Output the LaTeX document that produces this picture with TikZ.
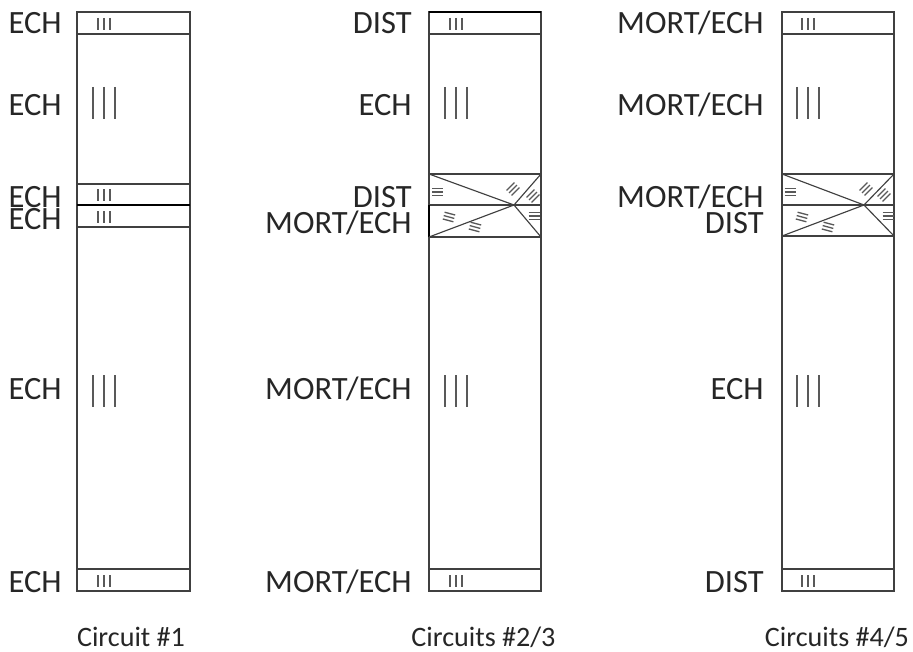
\documentclass[tikz,border=0pt]{standalone}
\usepackage{fontspec}
\setmainfont{Carlito}
\newcommand{\smallticks}[2]{\draw[tick] (#1-6,#2-6) -- (#1-6,#2+6) (#1,#2-6) -- (#1,#2+6) (#1+6,#2-6) -- (#1+6,#2+6);}
\newcommand{\largeticks}[2]{\draw[tick] (#1-11,#2-16) -- (#1-11,#2+16) (#1,#2-16) -- (#1,#2+16) (#1+11,#2-16) -- (#1+11,#2+16);}
\newcommand{\hatchmark}[3]{\draw[tick,shift={(#1,#2)},rotate=#3] (-5.5,-3.5) -- (5.5,-3.5) (-5.5,0) -- (5.5,0) (-5.5,3.5) -- (5.5,3.5);}

\begin{document}
\begin{tikzpicture}[x=0.02cm,y=-0.02cm,
  wall/.style={color=black!75,line width=0.65pt},
  heavy/.style={color=black,line width=1.2pt},
  tick/.style={color=black!65,line width=0.75pt},
  layer/.style={anchor=east,text=black!85,font=\fontsize{18.5}{18.5}\selectfont,text height=11.8pt,text depth=0pt,inner sep=0pt},
  caption/.style={text=black!85,font=\fontsize{16}{16}\selectfont,inner sep=0pt}]
\useasboundingbox (0,0) rectangle (913,652);

% circuit 1
\draw[wall] (77,12) rectangle (190,591);
\draw[wall] (77,34) -- (190,34);
\draw[wall] (77,184) -- (190,184);
\draw[wall] (77,227) -- (190,227);
\draw[wall] (77,569) -- (190,569);
\draw[heavy] (77,205) -- (190,205);

\smallticks{104}{24}
\largeticks{104}{103}
\smallticks{104}{195}
\smallticks{104}{217}
\largeticks{104}{391}
\smallticks{104}{581}

\node[layer] (ecA) at (62,23) {ECH};
\node[layer] (ecB) at (62,105) {ECH};
\node[layer] (ecC) at (62,197) {ECH};
\node[layer] (ecD) at (62,219) {ECH};
\node[layer] (ecE) at (62,389) {ECH};
\node[layer] (ecF) at (62,582) {ECH};
\node[caption] (capA) at (131,637) {Circuit \#1};

% circuits 2/3
\draw[wall] (429,12) rectangle (541,591);
\draw[heavy] (429,12) -- (541,12);
\draw[wall] (429,34) -- (541,34);
\draw[wall] (429,174) -- (541,174);
\draw[wall] (429,205) -- (541,205);
\draw[wall] (429,237) -- (541,237);
\draw[wall] (429,569) -- (541,569);
\draw[heavy] (429,205) -- (429,237);
\draw[wall] (429,174) -- (514,205) -- (541,174);
\draw[wall] (429,237) -- (514,205) -- (541,237);

\smallticks{456}{24}
\largeticks{456}{103}
\hatchmark{437.5}{192}{0}
\hatchmark{513}{189}{45}
\hatchmark{533}{196}{45}
\hatchmark{449}{217}{-15}
\hatchmark{475}{227}{-15}
\hatchmark{534}{216}{0}
\largeticks{456}{391}
\smallticks{456}{581}

\node[layer] (ttA) at (412,23) {DIST};
\node[layer] (ttB) at (412,105) {ECH};
\node[layer] (ttC) at (412,197) {DIST};
\node[layer] (ttD) at (412,223) {MORT/ECH};
\node[layer] (ttE) at (412,389) {MORT/ECH};
\node[layer] (ttF) at (412,582) {MORT/ECH};
\node[caption] (capB) at (483.5,637) {Circuits \#2/3};

% circuits 4/5
\draw[wall] (782,12) rectangle (894,591);
\draw[wall] (782,34) -- (894,34);
\draw[wall] (782,174) -- (894,174);
\draw[wall] (782,205) -- (894,205);
\draw[wall] (782,236) -- (894,236);
\draw[wall] (782,569) -- (894,569);
\draw[wall] (782,174) -- (864,205) -- (894,174);
\draw[wall] (782,236) -- (864,205) -- (894,236);

\smallticks{808}{24}
\largeticks{808}{103}
\hatchmark{790}{192}{0}
\hatchmark{866}{189}{45}
\hatchmark{884}{195}{45}
\hatchmark{802}{217}{-15}
\hatchmark{828}{227}{-15}
\hatchmark{888}{216}{0}
\largeticks{808}{391}
\smallticks{808}{581}

\node[layer] (ffA) at (764,23) {MORT/ECH};
\node[layer] (ffB) at (764,105) {MORT/ECH};
\node[layer] (ffC) at (764,197) {MORT/ECH};
\node[layer] (ffD) at (764,223) {DIST};
\node[layer] (ffE) at (764,389) {ECH};
\node[layer] (ffF) at (764,582) {DIST};
\node[caption] (capC) at (837,637) {Circuits \#4/5};
\end{tikzpicture}
\end{document}
